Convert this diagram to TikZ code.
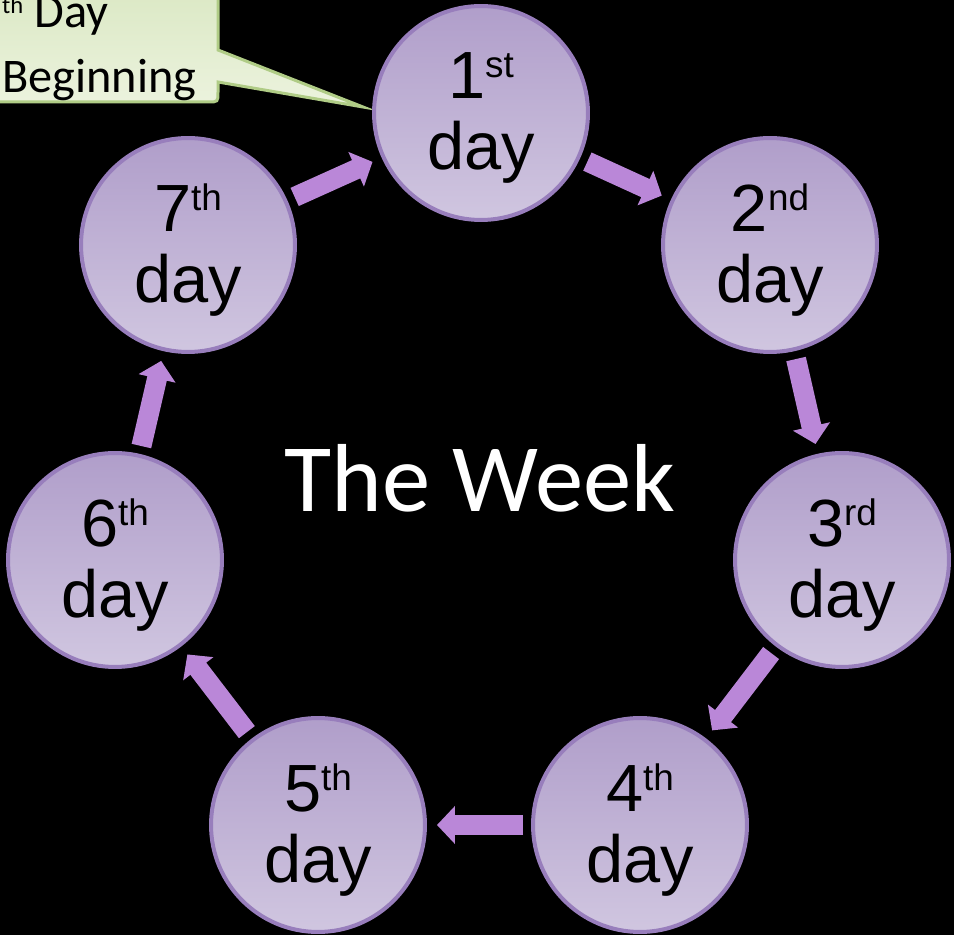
\documentclass[tikz,border=0pt]{standalone}
\usepackage{fontspec}
\usepackage{xcolor}
\setmainfont{Liberation Sans}
\newfontfamily\calfont{Carlito}
\usetikzlibrary{arrows.meta,calc}

\definecolor{dayTop}{RGB}{176,158,202}
\definecolor{dayBottom}{RGB}{208,198,224}
\definecolor{dayBorder}{RGB}{152,126,188}
\definecolor{linkPurple}{RGB}{186,135,216}
\definecolor{noteTop}{RGB}{212,228,186}
\definecolor{noteBottom}{RGB}{236,243,222}
\definecolor{noteBorder}{RGB}{176,204,134}

\newcommand{\ordday}[2]{#1\raisebox{12pt}{\fontsize{21}{21}\selectfont #2}}

\tikzset{
    day/.style={circle, draw=dayBorder, line width=0.08cm, top color=dayTop, bottom color=dayBottom,
        minimum size=4.28cm, inner sep=0pt, align=center, font=\fontsize{38}{40}\selectfont},
    link/.style={draw=linkPurple, line width=0.4cm, -{Triangle[length=0.36cm,width=0.74cm]},
        shorten <=0.16cm, shorten >=0.2cm}
}

\begin{document}
\begin{tikzpicture}[x=0.02cm, y=-0.02cm]
    \useasboundingbox (0,0) rectangle (954,935);
    \fill[black] (0,0) rectangle (954,935);
    \clip (0,0) rectangle (954,935);

    % the callout in the corner
    \draw[draw=noteBorder, line width=0.06cm, top color=noteTop, bottom color=noteBottom]
        (-60,-60) -- (218,-60) -- (218,50) -- (363,107) -- (218,82) -- (218,92)
        .. controls (218,102) .. (208,102) -- (-60,102) -- cycle;
    \node[anchor=base west, align=left, font=\calfont\fontsize{27.5}{37}\selectfont] (note) at (-4,93)
        {\raisebox{8pt}{\fontsize{14}{14}\selectfont th} Day\\Beginning};

    % the seven days
    \foreach \i/\x/\y/\s in {1/481/113/st, 2/770/245/nd, 3/842/560/rd, 4/640/825/th,
                             5/318/825/th, 6/115/560/th, 7/188/245/th} {
        \node[day] (d\i) at (\x,\y) {};
        \node[align=center, font=\fontsize{38}{40}\selectfont] (t\i) at ([yshift=-0.1cm]d\i.center) {\ordday{\i}{\s}\\day};
    }
    \foreach \i/\j in {1/2, 2/3, 3/4, 4/5, 5/6, 6/7, 7/1} {
        \draw[link] (d\i) -- (d\j);
    }

    \node[anchor=base, text=white, font=\calfont\fontsize{55}{60}\selectfont] (title) at (480,512) {The Week};
\end{tikzpicture}
\end{document}
